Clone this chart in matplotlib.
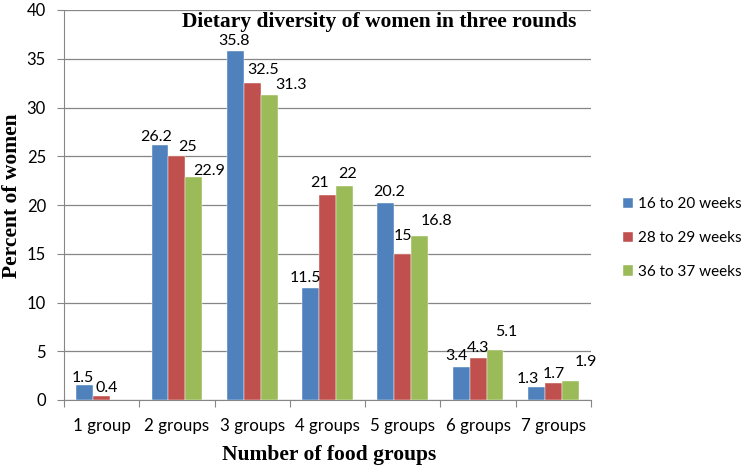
import matplotlib
matplotlib.use("Agg")
import matplotlib.pyplot as plt
import numpy as np

categories = ["1 group", "2 groups", "3 groups", "4 groups", "5 groups", "6 groups", "7 groups"]
series_names = ["16 to 20 weeks", "28 to 29 weeks", "36 to 37 weeks"]
wk16_20 = [1.5, 26.2, 35.8, 11.5, 20.2, 3.4, 1.3]
wk28_29 = [0.4, 25, 32.5, 21, 15, 4.3, 1.7]
wk36_37 = [None, 22.9, 31.3, 22, 16.8, 5.1, 1.9]
colors = ["#4F81BD", "#C0504D", "#9BBB59"]
yticks = [0, 5, 10, 15, 20, 25, 30, 35, 40]

# label offsets (dx, dy) in pixels, as placed in the reference
label_offsets = [
    [(-2, 3), (-4, 4), (-1, 6), (-5, 6), (3, 7), (-5, 7), (-9, 4)],
    [(5, 4), (11, 5), (11, 9), (-8, 8), (0, 14), (0, 6), (0, 5)],
    [None, (15, 2), (22, 6), (3, 8), (17, 11), (11, 14), (16, 15)],
]

sans = "Lato"
fig = plt.figure(figsize=(7.5, 4.74), dpi=100)
ax = fig.add_axes([64/750, 1-400/474, (591-64)/750, (400-10)/474])

x = np.arange(len(categories))
w = 0.225
for i, (vals, c, name) in enumerate(zip([wk16_20, wk28_29, wk36_37], colors, series_names)):
    xs = [xx + (i-1)*w for xx, v in zip(x, vals) if v is not None]
    vs = [v for v in vals if v is not None]
    offs = [o for o, v in zip(label_offsets[i], vals) if v is not None]
    ax.bar(xs, vs, w, color=c, label=name, zorder=3, edgecolor="white", linewidth=0.3)
    for xb, v, (dx, dy) in zip(xs, vs, offs):
        ax.annotate("%g" % v, xy=(xb, v), xytext=(dx, dy), textcoords="offset pixels",
                    ha="center", va="baseline", fontsize=11.5, family=sans, zorder=5)

ax.set_xlim(-0.5, len(categories)-0.5)
ax.set_ylim(0, 40)
ax.set_yticks(yticks)
ax.set_xticks(np.arange(len(categories)+1)-0.5, minor=False)
ax.set_xticklabels([])
ax.set_xticks(x, minor=True)
ax.set_xticklabels(categories, minor=True, fontsize=12.2, family=sans)
ax.tick_params(axis="x", which="minor", length=0, pad=13)
ax.tick_params(axis="x", which="major", length=5, direction="out", color="#868686")
ax.tick_params(axis="y", length=5, direction="out", color="#868686", labelsize=12, pad=8)
for lab in ax.get_yticklabels():
    lab.set_family(sans)
ax.grid(axis="y", color="#868686", linewidth=0.9, zorder=0)
for s in ["top", "right"]:
    ax.spines[s].set_visible(False)
for s in ["left", "bottom"]:
    ax.spines[s].set_color("#868686")

ax.text(0.598, 0.995, "Dietary diversity of women in three rounds", transform=ax.transAxes,
        ha="center", va="top", fontsize=15.5, fontweight="bold", family="Liberation Serif")
fig.text(12/750, 1-196/474, "Percent of women", rotation=90, ha="center", va="center",
         fontsize=15.5, fontweight="bold", family="Liberation Serif")
fig.text(329/750, 1-455/474, "Number of food groups", ha="center", va="center",
         fontsize=15.5, fontweight="bold", family="Liberation Serif")

leg = fig.legend(loc="center left", bbox_to_anchor=(623/750, 1-238/474), frameon=False,
                 borderpad=0, borderaxespad=0,
                 prop={"family": sans, "size": 11}, handlelength=0.65, handleheight=0.65,
                 labelspacing=1.3, handletextpad=0.35)

fig.savefig("out.png", dpi=100)
